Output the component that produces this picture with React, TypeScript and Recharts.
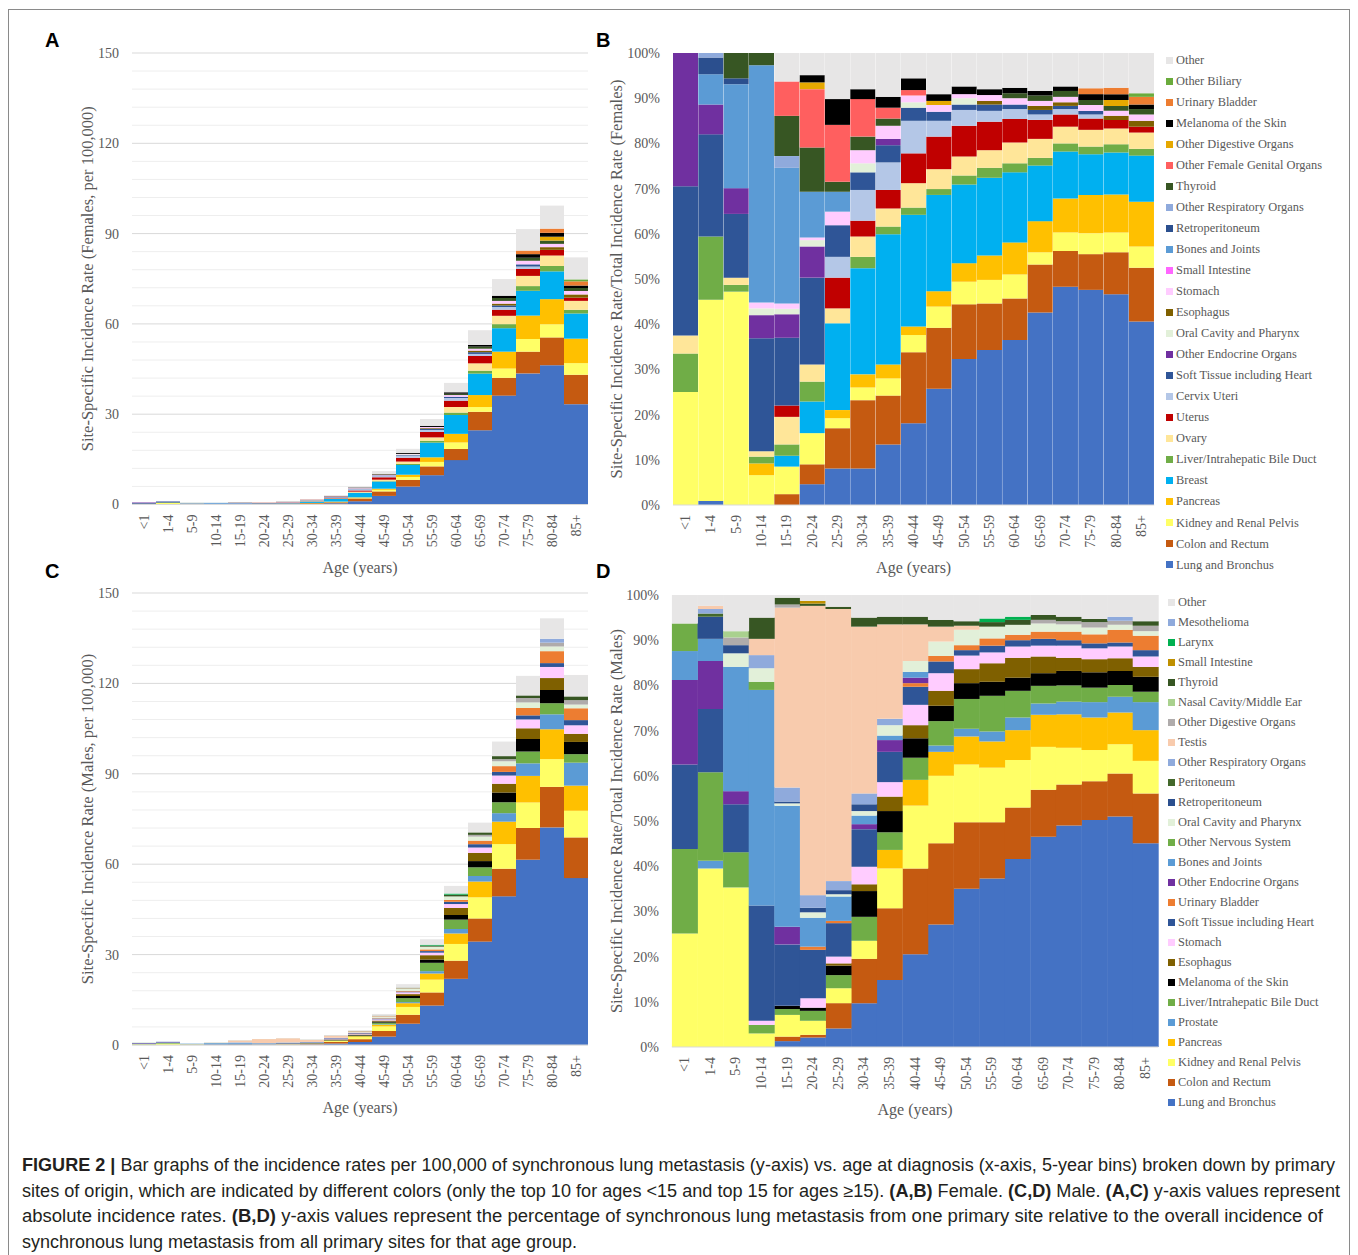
import React from 'react';
import { BarChart, Bar, XAxis, YAxis, CartesianGrid, Legend, Label } from 'recharts';

const SERIF = "'Liberation Serif', 'Times New Roman', Times, serif";
const SANS = "'Liberation Sans', Arial, Helvetica, sans-serif";
const AXIS_TEXT = '#595959';

// ---------------- categories & ticks ----------------
const AGES = ['<1', '1-4', '5-9', '10-14', '15-19', '20-24', '25-29', '30-34', '35-39', '40-44', '45-49', '50-54', '55-59', '60-64', '65-69', '70-74', '75-79', '80-84', '85+'];
const RATE_TICKS = [0, 30, 60, 90, 120, 150];
const RATE_MINOR_TICKS = [6, 12, 18, 24, 36, 42, 48, 54, 66, 72, 78, 84, 96, 102, 108, 114, 126, 132, 138, 144];
const SHARE_TICKS = [0, 0.1, 0.2, 0.3, 0.4, 0.5, 0.6, 0.7, 0.8, 0.9, 1];

// ---------------- totals (incidence per 100,000) ----------------
const F_TOTAL = [0.66, 1.1, 0.55, 0.55, 0.77, 0.66, 1.0, 1.8, 3.1, 6.0, 11.1, 18.5, 28.4, 40.4, 57.9, 74.9, 91.5, 99.3, 82.1];
const M_TOTAL = [0.77, 1.1, 0.55, 0.77, 1.5, 2.0, 2.3, 1.8, 3.3, 4.9, 10.3, 20.2, 35.1, 52.8, 73.8, 100.7, 122.5, 141.6, 122.8];

// ---------------- female shares (% of total) ----------------
const F_LUNG = [0, 0.9, 0, 0, 0, 4.6, 8.1, 8.1, 13.4, 18.1, 25.7, 32.3, 34.3, 36.5, 42.6, 48.3, 47.6, 46.6, 40.6];
const F_COLON = [0, 0, 0, 0, 2.4, 4.4, 8.9, 15.1, 10.8, 15.7, 13.5, 12.1, 10.3, 9.2, 10.6, 7.9, 7.9, 9.3, 11.9];
const F_KIDNEY = [25, 44.5, 47.2, 6.6, 6.1, 6.9, 2.2, 2.8, 3.8, 3.8, 4.7, 5.0, 5.2, 5.3, 2.7, 4.1, 4.6, 4.4, 4.7];
const F_PANCREAS = [0, 0, 0, 2.6, 0, 0, 1.8, 2.9, 3.1, 1.9, 3.4, 4.1, 5.4, 7.1, 6.9, 7.5, 8.5, 8.4, 9.9];
const F_BREAST = [0, 0, 0, 0, 2.4, 7.0, 19.2, 23.5, 28.8, 24.7, 21.3, 17.4, 17.2, 15.5, 12.3, 10.4, 9.0, 9.3, 10.2];
const F_LIVER = [8.5, 14.0, 1.5, 1.5, 2.5, 4.4, 0, 2.5, 1.7, 1.6, 1.3, 2.0, 2.2, 2.0, 1.7, 1.8, 1.7, 1.8, 1.5];
const F_OVARY = [4.0, 0, 1.6, 1.2, 6.1, 3.8, 3.3, 4.5, 4.0, 5.4, 4.4, 4.2, 3.9, 4.6, 4.2, 3.7, 3.7, 3.5, 3.6];
const F_UTERUS = [0, 0, 0, 0, 2.5, 0, 6.8, 3.5, 4.1, 6.6, 7.2, 6.8, 6.3, 5.2, 4.2, 2.7, 2.5, 1.9, 1.3];
const F_CERVIX = [0, 0, 0, 0, 0, 0, 4.6, 6.8, 6.1, 7.2, 3.5, 3.5, 2.4, 2.2, 1.2, 1.2, 0.9, 0, 0];
const F_SOFT = [33.0, 22.6, 14.1, 25.0, 15.0, 19.2, 7.0, 3.9, 3.8, 2.9, 2.0, 1.2, 1.4, 1.0, 1.0, 0.7, 0.8, 0, 0];
const F_OTHER_ENDO = [29.5, 6.6, 5.7, 5.1, 5.2, 6.9, 0, 0, 1.4, 0, 0, 0, 0, 0, 0, 0, 0, 0, 0];
const F_ORAL = [0, 0, 0, 1.5, 1.2, 1.4, 0, 2.0, 0, 1.2, 0, 1.4, 0, 0, 0, 0, 0, 0, 0];
const F_ESOPHAGUS = [0, 0, 0, 0, 0, 0, 0, 0, 0, 0, 0, 0, 0.8, 0, 0.9, 0.8, 0, 0.9, 1.3];
const F_STOMACH = [0, 0, 0, 1.3, 1.2, 0.6, 3.0, 2.9, 2.9, 1.5, 1.5, 0.9, 1.3, 1.4, 1.1, 1.2, 1.3, 1.1, 1.4];
const F_SMALL_INT = [0, 0, 0, 0, 0, 0, 0, 0, 0, 0, 0, 0, 0, 0, 0, 0, 0, 0, 0];
const F_BONES = [0, 6.7, 23.0, 52.5, 30.0, 10.1, 4.4, 0, 0, 0, 0, 0, 0, 0, 0, 0, 0, 0, 0];
const F_RETRO = [0, 3.7, 1.3, 0, 0, 0, 0, 0, 0, 0, 0, 0, 0, 0, 0, 0, 0, 0, 0];
const F_OTHER_RESP = [0, 1.0, 0, 0, 2.6, 0, 0, 0, 0, 0, 0, 0, 0, 0, 0, 0, 0, 0, 0];
const F_THYROID = [0, 0, 5.6, 2.7, 8.9, 9.8, 2.2, 3.0, 1.6, 0, 0, 0, 0, 1.1, 1.2, 1.3, 1.1, 1.1, 1.2];
const F_OTHER_FEM_GEN = [0, 0, 0, 0, 7.6, 12.9, 12.6, 8.3, 2.4, 1.2, 0, 0, 0, 0, 0, 0, 0, 0, 0];
const F_OTHER_DIG = [0, 0, 0, 0, 0, 1.5, 0, 0, 0, 0, 0.9, 0, 0, 0, 0, 0, 0, 1.3, 0];
const F_MELANOMA = [0, 0, 0, 0, 0, 1.6, 5.7, 2.2, 2.4, 2.6, 1.5, 1.7, 1.3, 1.2, 1.0, 1.0, 1.3, 1.3, 1.0];
const F_URINARY = [0, 0, 0, 0, 0, 0, 0, 0, 0, 0, 0, 0, 0, 0, 0, 0, 1.3, 1.4, 1.7];
const F_OTHER_BILIARY = [0, 0, 0, 0, 0, 0, 0, 0, 0, 0, 0, 0, 0, 0, 0, 0, 0, 0, 0.8];
const F_OTHER = [0, 0, 0, 0, 6.3, 4.9, 10.2, 8.0, 9.7, 5.6, 9.1, 7.4, 8.0, 7.7, 8.4, 7.4, 7.8, 7.7, 8.9];

// ---------------- male shares (% of total) ----------------
const M_LUNG = [0, 0, 0, 0, 1.3, 2.1, 4.1, 9.7, 14.8, 20.5, 27.1, 35.0, 37.3, 41.6, 46.5, 49.0, 50.2, 51.0, 45.1];
const M_COLON = [0, 0, 0, 0, 1.0, 0.6, 5.6, 9.8, 15.9, 19.0, 18.0, 14.7, 12.4, 11.4, 10.4, 9.1, 8.6, 9.5, 11.0];
const M_KIDNEY = [25.1, 39.5, 35.3, 3.0, 4.8, 3.1, 3.3, 4.0, 8.8, 13.9, 14.9, 12.8, 12.1, 10.5, 9.5, 8.1, 6.9, 6.5, 7.2];
const M_PANCREAS = [0, 0, 0, 0, 0, 0, 0, 0, 4.1, 5.7, 5.3, 6.2, 5.8, 6.6, 7.1, 7.4, 7.2, 7.0, 6.8];
const M_PROSTATE = [0, 1.7, 0, 0, 0, 0, 0, 0, 0, 0, 1.4, 1.7, 2.2, 2.8, 2.5, 2.8, 3.4, 3.5, 6.2];
const M_LIVER = [18.7, 19.6, 7.8, 1.9, 1.3, 2.2, 2.9, 5.3, 3.9, 4.9, 5.4, 6.6, 7.9, 5.9, 3.9, 3.6, 3.2, 2.6, 2.3];
const M_MELANOMA = [0, 0, 0, 0, 0.7, 0.7, 2.1, 5.7, 4.7, 4.3, 3.4, 3.5, 3.1, 2.9, 2.8, 3.2, 3.4, 3.1, 3.3];
const M_ESOPHAGUS = [0, 0, 0, 0, 0, 0, 0.5, 1.5, 3.2, 2.9, 3.3, 3.1, 4.1, 4.4, 3.7, 2.9, 2.9, 2.8, 2.2];
const M_STOMACH = [0, 0, 0, 0.9, 0, 2.1, 1.5, 3.9, 3.2, 4.5, 3.9, 3.0, 2.4, 2.5, 2.4, 2.7, 2.4, 2.6, 2.3];
const M_SOFT = [18.7, 14.0, 10.6, 25.5, 13.6, 10.7, 7.4, 8.3, 6.7, 4.0, 2.6, 1.2, 1.5, 1.4, 1.5, 1.2, 1.1, 0.9, 1.4];
const M_URINARY = [0, 0, 0, 0, 0, 0.7, 0.5, 0, 0, 0.8, 1.2, 1.1, 1.6, 1.2, 1.6, 1.9, 2.0, 2.8, 3.2];
const M_OTHER_ENDO = [18.7, 10.6, 2.9, 0, 3.9, 0, 0, 1.1, 2.6, 1.2, 0, 0, 0, 0, 0, 0, 0, 0, 0];
const M_BONES = [6.4, 4.9, 27.5, 47.7, 26.8, 6.4, 5.4, 1.9, 1.0, 1.3, 0, 0, 0, 0, 0, 0, 0, 0, 0];
const M_OTHER_NERV = [6.1, 0, 0, 1.8, 0, 0, 0, 0, 0, 0, 0, 0, 0, 0, 0, 0, 0, 0, 0];
const M_ORAL = [0, 0, 3.0, 3.0, 0.5, 1.2, 0.5, 1.0, 2.3, 2.4, 3.2, 3.4, 2.6, 2.2, 1.8, 1.6, 1.5, 1.1, 1.0];
const M_RETRO = [0, 4.9, 1.8, 0, 0.4, 1.0, 0.9, 1.5, 0, 0, 0, 0, 0, 0, 0, 0, 0, 0, 0];
const M_PERITONEUM = [0, 0.7, 0, 0, 0, 0, 0, 0, 0, 0, 0, 0, 0, 0, 0, 0, 0, 0, 0];
const M_OTHER_RESP = [0, 1.0, 0, 2.9, 3.1, 2.8, 2.0, 2.4, 1.4, 0, 0, 0, 0, 0, 0, 0, 0, 0, 0];
const M_TESTIS = [0, 0.7, 0, 3.6, 39.8, 64.0, 60.2, 36.9, 20.9, 8.1, 3.3, 0.9, 0, 0, 0, 0, 0, 0, 0];
const M_OTHER_DIG = [0, 0, 1.7, 0, 0.7, 0, 0, 0, 0, 0, 0, 0, 0, 0, 0.8, 0.7, 1.2, 0.9, 1.2];
const M_NASAL = [0, 0, 1.4, 0, 0, 0, 0, 0, 0, 0, 0, 0, 0, 0, 0, 0, 0, 0, 0];
const M_THYROID = [0, 0, 0, 4.7, 1.5, 0.5, 0.5, 2.0, 1.7, 1.7, 1.5, 1.0, 1.0, 1.1, 1.1, 1.0, 0.7, 0, 1.0];
const M_SMALL_INT = [0, 0, 0, 0, 0, 0.6, 0, 0, 0, 0, 0, 0, 0, 0, 0, 0, 0, 0, 0];
const M_LARYNX = [0, 0, 0, 0, 0, 0, 0, 0, 0, 0, 0, 0, 0.8, 0.7, 0, 0, 0, 0, 0];
const M_MESO = [0, 0, 0, 0, 0, 0, 0, 0, 0, 0, 0, 0, 0, 0, 0, 0, 0, 0.9, 0];
const M_OTHER = [6.3, 2.4, 8.0, 5.0, 0.6, 1.3, 2.6, 5.0, 4.8, 4.8, 5.5, 5.8, 5.2, 4.8, 4.4, 4.8, 5.3, 4.8, 5.8];

type Series = { key: string; name: string; color: string; values: number[] };

// stack order: bottom -> top
const FEMALE_SERIES: Series[] = [
  { key: 'lung', name: 'Lung and Bronchus', color: '#4472C4', values: F_LUNG },
  { key: 'colon', name: 'Colon and Rectum', color: '#C55A11', values: F_COLON },
  { key: 'kidney', name: 'Kidney and Renal Pelvis', color: '#FFFF66', values: F_KIDNEY },
  { key: 'pancreas', name: 'Pancreas', color: '#FFC000', values: F_PANCREAS },
  { key: 'breast', name: 'Breast', color: '#00B0F0', values: F_BREAST },
  { key: 'liver', name: 'Liver/Intrahepatic Bile Duct', color: '#70AD47', values: F_LIVER },
  { key: 'ovary', name: 'Ovary', color: '#FFE699', values: F_OVARY },
  { key: 'uterus', name: 'Uterus', color: '#C00000', values: F_UTERUS },
  { key: 'cervix', name: 'Cervix Uteri', color: '#B4C7E7', values: F_CERVIX },
  { key: 'soft', name: 'Soft Tissue including Heart', color: '#2F5597', values: F_SOFT },
  { key: 'otherEndo', name: 'Other Endocrine Organs', color: '#7030A0', values: F_OTHER_ENDO },
  { key: 'oral', name: 'Oral Cavity and Pharynx', color: '#E2F0D9', values: F_ORAL },
  { key: 'esophagus', name: 'Esophagus', color: '#7F6000', values: F_ESOPHAGUS },
  { key: 'stomach', name: 'Stomach', color: '#FFCCFF', values: F_STOMACH },
  { key: 'smallInt', name: 'Small Intestine', color: '#FF66FF', values: F_SMALL_INT },
  { key: 'bones', name: 'Bones and Joints', color: '#5B9BD5', values: F_BONES },
  { key: 'retro', name: 'Retroperitoneum', color: '#2B4F8E', values: F_RETRO },
  { key: 'otherResp', name: 'Other Respiratory Organs', color: '#8FAADC', values: F_OTHER_RESP },
  { key: 'thyroid', name: 'Thyroid', color: '#375623', values: F_THYROID },
  { key: 'otherFemGen', name: 'Other Female Genital Organs', color: '#FF5F5F', values: F_OTHER_FEM_GEN },
  { key: 'otherDig', name: 'Other Digestive Organs', color: '#E6A800', values: F_OTHER_DIG },
  { key: 'melanoma', name: 'Melanoma of the Skin', color: '#000000', values: F_MELANOMA },
  { key: 'urinary', name: 'Urinary Bladder', color: '#ED7D31', values: F_URINARY },
  { key: 'otherBiliary', name: 'Other Biliary', color: '#6AAB3C', values: F_OTHER_BILIARY },
  { key: 'other', name: 'Other', color: '#E7E6E6', values: F_OTHER },
];

const MALE_SERIES: Series[] = [
  { key: 'lung', name: 'Lung and Bronchus', color: '#4472C4', values: M_LUNG },
  { key: 'colon', name: 'Colon and Rectum', color: '#C55A11', values: M_COLON },
  { key: 'kidney', name: 'Kidney and Renal Pelvis', color: '#FFFF66', values: M_KIDNEY },
  { key: 'pancreas', name: 'Pancreas', color: '#FFC000', values: M_PANCREAS },
  { key: 'prostate', name: 'Prostate', color: '#5B9BD5', values: M_PROSTATE },
  { key: 'liver', name: 'Liver/Intrahepatic Bile Duct', color: '#70AD47', values: M_LIVER },
  { key: 'melanoma', name: 'Melanoma of the Skin', color: '#000000', values: M_MELANOMA },
  { key: 'esophagus', name: 'Esophagus', color: '#7F6000', values: M_ESOPHAGUS },
  { key: 'stomach', name: 'Stomach', color: '#FFCCFF', values: M_STOMACH },
  { key: 'soft', name: 'Soft Tissue including Heart', color: '#2F5597', values: M_SOFT },
  { key: 'urinary', name: 'Urinary Bladder', color: '#ED7D31', values: M_URINARY },
  { key: 'otherEndo', name: 'Other Endocrine Organs', color: '#7030A0', values: M_OTHER_ENDO },
  { key: 'bones', name: 'Bones and Joints', color: '#5B9BD5', values: M_BONES },
  { key: 'otherNerv', name: 'Other Nervous System', color: '#70AD47', values: M_OTHER_NERV },
  { key: 'oral', name: 'Oral Cavity and Pharynx', color: '#E2F0D9', values: M_ORAL },
  { key: 'retro', name: 'Retroperitoneum', color: '#2B4F8E', values: M_RETRO },
  { key: 'peritoneum', name: 'Peritoneum', color: '#43682B', values: M_PERITONEUM },
  { key: 'otherResp', name: 'Other Respiratory Organs', color: '#8FAADC', values: M_OTHER_RESP },
  { key: 'testis', name: 'Testis', color: '#F8CBAD', values: M_TESTIS },
  { key: 'otherDig', name: 'Other Digestive Organs', color: '#AFABAB', values: M_OTHER_DIG },
  { key: 'nasal', name: 'Nasal Cavity/Middle Ear', color: '#A9D18E', values: M_NASAL },
  { key: 'thyroid', name: 'Thyroid', color: '#375623', values: M_THYROID },
  { key: 'smallInt', name: 'Small Intestine', color: '#BF9000', values: M_SMALL_INT },
  { key: 'larynx', name: 'Larynx', color: '#00B050', values: M_LARYNX },
  { key: 'meso', name: 'Mesothelioma', color: '#8FAADC', values: M_MESO },
  { key: 'other', name: 'Other', color: '#E7E6E6', values: M_OTHER },
];

// share table (for 100% stacked panels)
function buildShareRows(series: Series[]) {
  return AGES.map((age, i) => {
    const row: any = { age };
    series.forEach((s) => { row[s.key] = s.values[i]; });
    return row;
  });
}
// absolute rate table: share of the age group's total rate
function buildRateRows(series: Series[], totals: number[]) {
  return AGES.map((age, i) => {
    const sum = series.reduce((a, s) => a + s.values[i], 0);
    const row: any = { age };
    series.forEach((s) => { row[s.key] = sum > 0 ? (totals[i] * s.values[i]) / sum : 0; });
    return row;
  });
}

const F_RATE_ROWS = buildRateRows(FEMALE_SERIES, F_TOTAL);
const F_SHARE_ROWS = buildShareRows(FEMALE_SERIES);
const M_RATE_ROWS = buildRateRows(MALE_SERIES, M_TOTAL);
const M_SHARE_ROWS = buildShareRows(MALE_SERIES);

const XTick = (props: any) => {
  const { x, y, payload } = props;
  return (
    <text x={x} y={y} transform={`rotate(-90 ${x} ${y})`} textAnchor="end" dominantBaseline="central"
      fontFamily={SERIF} fontSize={14} fill={AXIS_TEXT}>
      {payload.value}
    </text>
  );
};

function LegendList({ series, spacing, square }: { series: Series[]; spacing: number; square: number }) {
  const items = [...series].reverse();
  return (
    <div style={{ fontFamily: SERIF, fontSize: 12.4, color: AXIS_TEXT, lineHeight: 1 }}>
      {items.map((s) => (
        <div key={s.key} style={{ height: spacing, display: 'flex', alignItems: 'center', whiteSpace: 'nowrap' }}>
          <span style={{ display: 'inline-block', width: square, height: square, background: s.color, marginRight: 3, flex: '0 0 auto' }} />
          <span>{s.name}</span>
        </div>
      ))}
    </div>
  );
}

type PanelProps = {
  left: number; top: number; width: number; height: number;
  margin: { top: number; right: number; bottom: number; left: number };
  yWidth: number; data: any[]; series: Series[]; percent: boolean;
  yTitle: string; yTitleX: number;
  legend?: { x: number; y: number; spacing: number; square: number };
};

function Panel(p: PanelProps) {
  return (
    <div style={{ position: 'absolute', left: p.left, top: p.top }}>
      <BarChart width={p.width} height={p.height} data={p.data} margin={p.margin}
        barCategoryGap={0} barGap={0} stackOffset={p.percent ? 'expand' : 'none'}>
        {!p.percent && <CartesianGrid vertical={false} horizontalValues={RATE_MINOR_TICKS} stroke="#EEEEEE" />}
        {!p.percent && <CartesianGrid vertical={false} stroke="#D9D9D9" />}
        <XAxis dataKey="age" interval={0} tick={<XTick />} tickLine={false} tickSize={0} tickMargin={10}
          height={80} axisLine={{ stroke: '#D9D9D9' }}>
          <Label content={(lp: any) => {
            const vb = lp.viewBox || { x: 0, y: 0, width: 0 };
            return (
              <text x={vb.x + vb.width / 2} y={vb.y + 62.5} textAnchor="middle" dominantBaseline="central"
                fontFamily={SERIF} fontSize={16} fill={AXIS_TEXT}>Age (years)</text>
            );
          }} />
        </XAxis>
        <YAxis width={p.yWidth} axisLine={false} tickLine={false} tickSize={0} tickMargin={13}
          domain={p.percent ? [0, 1] : [0, 150]} ticks={p.percent ? SHARE_TICKS : RATE_TICKS} interval={0}
          tickFormatter={(v: number) => (p.percent ? `${Math.round(v * 100)}%` : `${v}`)}
          tick={{ fontFamily: SERIF, fontSize: 14, fill: AXIS_TEXT }}>
          <Label content={(lp: any) => {
            const vb = lp.viewBox || { y: 0, height: 0 };
            const cy = vb.y + vb.height / 2;
            return (
              <text x={p.yTitleX} y={cy} transform={`rotate(-90 ${p.yTitleX} ${cy})`} textAnchor="middle"
                dominantBaseline="central" fontFamily={SERIF} fontSize={16.5} fill={AXIS_TEXT}>{p.yTitle}</text>
            );
          }} />
        </YAxis>
        {p.series.map((s) => (
          <Bar key={s.key} dataKey={s.key} name={s.name} stackId="s" fill={s.color} isAnimationActive={false} />
        ))}
        {p.legend && (
          <Legend layout="vertical" align="center" verticalAlign="middle"
            wrapperStyle={{ left: p.legend.x, top: p.legend.y, width: 200, height: p.series.length * p.legend.spacing }}
            content={() => <LegendList series={p.series} spacing={p.legend!.spacing} square={p.legend!.square} />} />
        )}
      </BarChart>
    </div>
  );
}

export default function App() {
  return (
    <div style={{ position: 'absolute', left: 0, top: 0, width: 1358, height: 1255, background: '#fff', overflow: 'hidden' }}>
      <div style={{ position: 'absolute', left: 8, top: 9, width: 1342, height: 1300, border: '1.5px solid #8a8a8a', boxSizing: 'border-box' }} />
      <Panel left={0} top={0} width={600} height={600} margin={{ top: 53, right: 12, bottom: 15.5, left: 70 }}
        yWidth={62} data={F_RATE_ROWS} series={FEMALE_SERIES} percent={false}
        yTitle="Site-Specific Incidence Rate (Females, per 100,000)" yTitleX={87} />
      <Panel left={600} top={0} width={750} height={600} margin={{ top: 53, right: 195.7, bottom: 15, left: 13 }}
        yWidth={60} data={F_SHARE_ROWS} series={FEMALE_SERIES} percent={true}
        yTitle="Site-Specific Incidence Rate/Total Incidence Rate (Females)" yTitleX={16}
        legend={{ x: 566, y: 49.5, spacing: 21.04, square: 7 }} />
      <Panel left={0} top={540} width={600} height={600} margin={{ top: 53, right: 12, bottom: 15, left: 70 }}
        yWidth={62} data={M_RATE_ROWS} series={MALE_SERIES} percent={false}
        yTitle="Site-Specific Incidence Rate (Males, per 100,000)" yTitleX={87} />
      <Panel left={600} top={540} width={750} height={600} margin={{ top: 55, right: 191.7, bottom: 13, left: 11.9 }}
        yWidth={60} data={M_SHARE_ROWS} series={MALE_SERIES} percent={true}
        yTitle="Site-Specific Incidence Rate/Total Incidence Rate (Males)" yTitleX={16}
        legend={{ x: 568, y: 52.7, spacing: 20, square: 7 }} />
      <svg width={1358} height={1255} style={{ position: 'absolute', left: 0, top: 0, pointerEvents: 'none' }}>
        <g fontFamily={SANS} fontWeight="bold" fontSize={20} fill="#000">
          <text x={45} y={47}>A</text>
          <text x={596} y={47}>B</text>
          <text x={45} y={578}>C</text>
          <text x={596} y={578}>D</text>
        </g>
        <g fontFamily={SANS} fontSize={17.5} fill="#231F20">
          <text x={22} y={1171} textLength={1313} lengthAdjust="spacingAndGlyphs">
            <tspan fontWeight="bold">FIGURE 2 |</tspan>
            <tspan> Bar graphs of the incidence rates per 100,000 of synchronous lung metastasis (y-axis) vs. age at diagnosis (x-axis, 5-year bins) broken down by primary</tspan>
          </text>
          <text x={22} y={1196.5} textLength={1318} lengthAdjust="spacingAndGlyphs">
            <tspan>sites of origin, which are indicated by different colors (only the top 10 for ages &lt;15 and top 15 for ages ≥15). </tspan>
            <tspan fontWeight="bold">(A,B)</tspan>
            <tspan> Female. </tspan>
            <tspan fontWeight="bold">(C,D)</tspan>
            <tspan> Male. </tspan>
            <tspan fontWeight="bold">(A,C)</tspan>
            <tspan> y-axis values represent</tspan>
          </text>
          <text x={22} y={1222} textLength={1301} lengthAdjust="spacingAndGlyphs">
            <tspan>absolute incidence rates. </tspan>
            <tspan fontWeight="bold">(B,D)</tspan>
            <tspan> y-axis values represent the percentage of synchronous lung metastasis from one primary site relative to the overall incidence of</tspan>
          </text>
          <text x={22} y={1247.5} textLength={555} lengthAdjust="spacingAndGlyphs">
            synchronous lung metastasis from all primary sites for that age group.
          </text>
        </g>
      </svg>
    </div>
  );
}
